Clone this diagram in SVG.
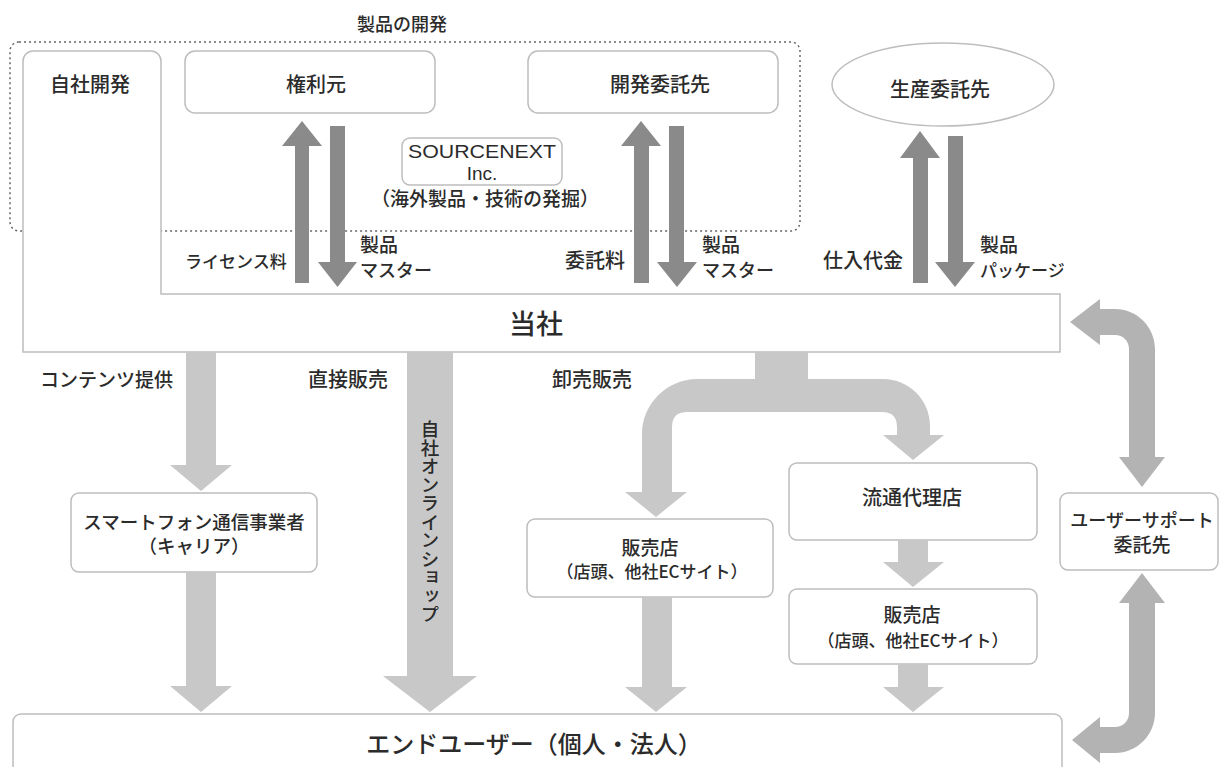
<svg xmlns="http://www.w3.org/2000/svg" width="1219" height="767" viewBox="0 0 1219 767">
<style>
.t{font-family:"Noto Sans CJK JP","Noto Sans",sans-serif;font-weight:500;fill:#2b2b2b;text-anchor:middle}
.s{text-anchor:start}
.box{fill:#fff;stroke:#bdbdbd;stroke-width:1.5}
.dark{fill:#8a8a8a}
.light{fill:#c8c8c8}
.mid{fill:#b3b3b3}
.lat{font-family:"Liberation Sans",Arial,sans-serif;fill:#2b2b2b;text-anchor:middle}
</style>
<rect width="1219" height="767" fill="#fff"/>
<g id="group-dev">
<rect x="10" y="42" width="790" height="189" rx="9" fill="none" stroke="#666" stroke-width="1.5" stroke-dasharray="2,3"/>
<text class="t" x="402" y="31" font-size="18">製品の開発</text>
</g>
<g id="node-tousha">
<path class="box" d="M23,352 V61 A10,10 0 0 1 33,51 H151 A10,10 0 0 1 161,61 V294 H1060 V352 Z"/>
<text class="t" x="90" y="92" font-size="20">自社開発</text>
<text class="t" x="536" y="334" font-size="27">当社</text>
</g>
<g id="node-kenrimoto">
<rect class="box" x="185" y="51" width="250" height="62" rx="10"/>
<text class="t" x="316" y="92" font-size="20">権利元</text>
</g>
<g id="node-kaihatsu">
<rect class="box" x="528" y="51" width="250" height="62" rx="10"/>
<text class="t" x="660" y="92" font-size="20">開発委託先</text>
</g>
<g id="node-sourcenext">
<rect class="box" x="402" y="138" width="160" height="47" rx="8"/>
<text class="lat" x="482" y="158" font-size="19" textLength="148" lengthAdjust="spacingAndGlyphs">SOURCENEXT</text>
<text class="lat" x="482" y="180" font-size="19">Inc.</text>
<text class="t" x="485" y="206" font-size="19">（海外製品・技術の発掘）</text>
</g>
<g id="node-seisan">
<ellipse cx="943" cy="84.5" rx="111" ry="41.5" fill="#fff" stroke="#bdbdbd" stroke-width="1.5"/>
<text class="t" x="940" y="97" font-size="20">生産委託先</text>
</g>
<g id="node-smartphone">
<rect class="box" x="71" y="493" width="246" height="79" rx="8"/>
<text class="t" x="194" y="529" font-size="18.5">スマートフォン通信事業者</text>
<text class="t" x="194" y="553" font-size="18.5">（キャリア）</text>
</g>
<g id="node-hanbaiten1">
<rect class="box" x="527" y="519" width="246" height="78" rx="8"/>
<text class="t" x="650" y="555" font-size="19">販売店</text>
<text class="t" x="652" y="578" font-size="17">（店頭、他社ECサイト）</text>
</g>
<g id="node-ryutsu">
<rect class="box" x="789" y="463" width="248" height="77" rx="8"/>
<text class="t" x="912" y="505" font-size="20">流通代理店</text>
</g>
<g id="node-hanbaiten2">
<rect class="box" x="789" y="589" width="248" height="75" rx="8"/>
<text class="t" x="912" y="622" font-size="19">販売店</text>
<text class="t" x="913" y="647" font-size="17">（店頭、他社ECサイト）</text>
</g>
<g id="node-support">
<rect class="box" x="1060" y="493" width="158" height="77" rx="8"/>
<text class="t" x="1142" y="527" font-size="18">ユーザーサポート</text>
<text class="t" x="1142" y="552" font-size="19">委託先</text>
</g>
<g id="node-enduser">
<rect class="box" x="13" y="714" width="1049" height="62" rx="8"/>
<text class="t" x="534" y="753" font-size="24">エンドユーザー（個人・法人）</text>
</g>
<g id="connectors">
<polygon class="dark" points="295,283 295,146 282,146 302,121 322,146 309,146 309,283"/>
<polygon class="dark" points="330,126 345,126 345,262 357,262 337.5,287 318,262 330,262"/>
<polygon class="dark" points="634,283 634,146 621,146 641,121 661,146 649,146 649,283"/>
<polygon class="dark" points="669,126 684,126 684,262 697,262 677,287 657,262 669,262"/>
<polygon class="dark" points="913,283 913,158 900,158 920,131 940,158 928,158 928,283"/>
<polygon class="dark" points="948,136 963,136 963,262 975,262 955,287 935,262 948,262"/>
<polygon class="light" points="186,352 216,352 216,465 232,465 201,491 170,465 186,465"/>
<polygon class="light" points="186,572 216,572 216,686 232,686 201,712 170,686 186,686"/>
<polygon class="light" points="407,352 453,352 453,676 477,676 430,712 383,676 407,676"/>
<polygon class="light" points="642,597 672,597 672,687 687,687 656,712 625,687 642,687"/>
<polygon class="light" points="898,540 928,540 928,562 944,562 913,587 883,562 898,562"/>
<polygon class="light" points="898,664 928,664 928,687 944,687 913,712 883,687 898,687"/>
<path class="light" d="M672,492 V427 Q672,412 687,412 H882 Q897,412 897,427 V435 H883 L913,460 L944,435 H930 V426 C930,400 909,379 883,379 H808 V352 H755 V379 H697 C667,379 642,404 642,434 V492 H625 L656,517 L687,492 Z"/>
<path class="mid" d="M1070,322 L1100,299 V309 H1115 C1137,309 1155,327 1155,349 V457 H1165 L1142,487 L1119,457 H1129 V349 C1129,341 1123,335 1115,335 H1100 V345 Z"/>
<path class="mid" d="M1142,573 L1165,603 H1155 V713 C1155,735 1137,753 1115,753 H1100 V763 L1072,740 L1100,717 V727 H1115 C1123,727 1129,721 1129,713 V603 H1119 Z"/>
</g>
<g id="labels">
<text class="t s" x="185" y="268" font-size="17">ライセンス料</text>
<text class="t s" x="360" y="252" font-size="19">製品</text>
<text class="t s" x="360" y="277" font-size="18">マスター</text>
<text class="t s" x="565" y="268" font-size="20">委託料</text>
<text class="t s" x="702" y="252" font-size="19">製品</text>
<text class="t s" x="702" y="277" font-size="18">マスター</text>
<text class="t s" x="823" y="268" font-size="20">仕入代金</text>
<text class="t s" x="980" y="252" font-size="19">製品</text>
<text class="t s" x="980" y="277" font-size="17">パッケージ</text>
<text class="t s" x="40" y="387" font-size="19">コンテンツ提供</text>
<text class="t s" x="308" y="387" font-size="20">直接販売</text>
<text class="t s" x="552" y="387" font-size="20">卸売販売</text>
<text class="t s" x="430" y="420" font-size="18.5" style="writing-mode:vertical-rl">自社オンラインショップ</text>
</g>
</svg>
